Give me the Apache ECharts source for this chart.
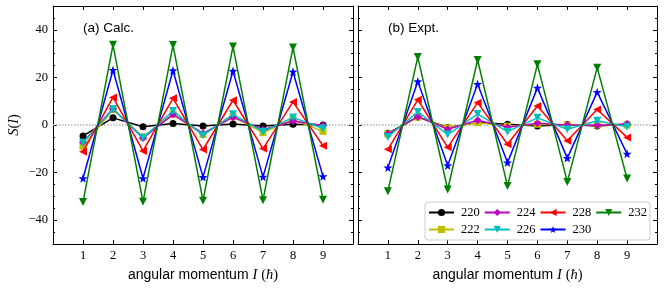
<!DOCTYPE html>
<html>
<head>
<meta charset="utf-8">
<script src="https://cdn.jsdelivr.net/npm/echarts@6/dist/echarts.min.js"></script>
<style>html,body{margin:0;padding:0;background:#fff}#c{width:665px;height:288px}</style>
</head>
<body>
<div id="c"></div>
<script>
// angular momentum I
const spins = [1, 2, 3, 4, 5, 6, 7, 8, 9];
const seriesNames = ['220', '222', '224', '226', '228', '230', '232'];

// (a) Calc.
const calc220 = [-4.6, 3.0, -0.7, 0.6, -0.4, 0.4, -0.4, 0.3, 0.0];
const calc222 = [-9.0, 6.5, -5.0, 4.5, -4.0, 3.5, -3.2, 2.3, -2.7];
const calc224 = [-7.2, 6.8, -5.5, 4.5, -3.5, 3.3, -2.0, 1.7, -0.2];
const calc226 = [-7.5, 6.7, -5.4, 5.9, -4.3, 4.5, -2.8, 3.2, -1.5];
const calc228 = [-11.2, 11.6, -10.9, 11.2, -10.3, 10.4, -9.9, 9.7, -8.7];
const calc230 = [-22.4, 23.1, -22.4, 22.9, -21.9, 22.7, -21.8, 22.4, -21.6];
const calc232 = [-32.4, 33.7, -32.3, 33.6, -31.8, 33.0, -31.6, 32.6, -31.4];

// (b) Expt.
const expt220 = [-3.5, 3.4, -1.0, 1.0, 0.3, -0.4, 0.2, -0.4, 0.3];
const expt222 = [-3.8, 3.3, -1.2, 1.0, -0.5, 0.3, 0.0, 0.0, 0.0];
const expt224 = [-3.8, 3.5, -1.8, 2.0, -0.9, 0.7, 0.0, -0.1, 0.4];
const expt226 = [-5.0, 5.5, -4.0, 4.6, -2.8, 3.0, -1.8, 1.8, -0.7];
const expt228 = [-10.2, 10.6, -9.4, 9.4, -8.1, 8.0, -6.6, 6.5, -5.2];
const expt230 = [-17.9, 18.3, -17.0, 17.2, -15.8, 15.6, -13.9, 13.8, -12.1];
const expt232 = [-27.8, 28.6, -27.1, 27.3, -25.6, 25.5, -23.9, 24.1, -22.5];

const calcData = [calc220, calc222, calc224, calc226, calc228, calc230, calc232];
const exptData = [expt220, expt222, expt224, expt226, expt228, expt230, expt232];

const colors = ['#000000', '#bfbf00', '#bf00bf', '#00bfbf', '#ff0000', '#0000ff', '#008000'];
const STAR = 'path://M0,-10 L2.35,-3.24 L9.51,-3.09 L3.8,1.24 L5.88,8.09 L0,4 L-5.88,8.09 L-3.8,1.24 L-9.51,-3.09 L-2.35,-3.24 Z';
const symbols = ['circle', 'rect', 'diamond', 'triangle', 'triangle', STAR, 'triangle'];
const rotations = [0, 0, 0, 180, 90, 0, 180];
const sizes = [7, 7, 8, 8, 8, 9, 8];

const SERIF = '"Liberation Serif", "DejaVu Serif", serif';
const SANS = '"Liberation Sans", "DejaVu Sans", sans-serif';

function xAxes(gi) {
  const common = {
    gridIndex: gi, type: 'value', min: 0, max: 10, interval: 1,
    axisLine: { show: true, onZero: false, lineStyle: { color: '#000', width: 1 } },
    axisTick: { show: true, inside: true, length: 4, lineStyle: { color: '#000', width: 1 } },
    splitLine: { show: false }
  };
  return [
    Object.assign({}, common, {
      position: 'bottom',
      axisLabel: {
        show: true, margin: 5, color: '#000', fontFamily: SERIF, fontSize: 12.5,
        formatter: v => (v >= 1 && v <= 9) ? String(v) : ''
      },
      name: '{a|angular momentum }{b|I}{a| }{c|(}{b|ħ}{c|)}',
      nameLocation: 'middle', nameGap: 24,
      nameTextStyle: {
        rich: {
          a: { fontFamily: SANS, fontSize: 14, color: '#000' },
          b: { fontFamily: SERIF, fontStyle: 'italic', fontSize: 14.5, color: '#000' },
          c: { fontFamily: SERIF, fontSize: 14.5, color: '#000' }
        }
      }
    }),
    Object.assign({}, common, { position: 'top', axisLabel: { show: false } })
  ];
}

function yAxes(gi, withLabels) {
  const common = {
    gridIndex: gi, type: 'value', min: -50, max: 50, splitNumber: 5,
    axisLine: { show: true, onZero: false, lineStyle: { color: '#000', width: 1 } },
    axisTick: { show: true, inside: true, length: 4, lineStyle: { color: '#000', width: 1 } },
    minorTick: { show: true, splitNumber: 4, length: 2, lineStyle: { color: '#000', width: 1 } },
    splitLine: { show: false }, minorSplitLine: { show: false }
  };
  const left = Object.assign({}, common, {
    position: 'left',
    axisLabel: {
      show: withLabels, margin: 5, color: '#000', fontFamily: SERIF, fontSize: 12.5,
      showMinLabel: false, showMaxLabel: false,
      formatter: v => v < 0 ? '\u2212' + (-v) : String(v)
    }
  });
  if (withLabels) {
    Object.assign(left, {
      name: '{i|S}{n|(}{i|I}{n|)}', nameLocation: 'middle', nameGap: 31,
      nameTextStyle: {
        rich: {
          i: { fontFamily: SERIF, fontStyle: 'italic', fontSize: 14.5, color: '#000' },
          n: { fontFamily: SERIF, fontSize: 14.5, color: '#000' }
        }
      }
    });
  }
  return [left, Object.assign({}, common, { position: 'right', axisLabel: { show: false } })];
}

function buildSeries(dataSets, gi) {
  return dataSets.map((vals, k) => {
    const s = {
      name: seriesNames[k], type: 'line',
      xAxisIndex: gi * 2, yAxisIndex: gi * 2,
      data: spins.map((x, j) => [x, vals[j]]),
      symbol: symbols[k], symbolRotate: rotations[k], symbolSize: sizes[k],
      showAllSymbol: true,
      lineStyle: { color: colors[k], width: 1.5 },
      itemStyle: { color: colors[k], borderWidth: 0 },
      emphasis: { disabled: true },
      z: 3 + k
    };
    if (k === 0) {
      s.markLine = {
        silent: true, symbol: 'none', label: { show: false },
        lineStyle: { color: '#b0b0b0', type: 'dotted', width: 1.5 },
        data: [{ yAxis: 0 }], z: 1
      };
    }
    return s;
  });
}

const chart = echarts.init(document.getElementById('c'), null, { renderer: 'canvas' });
chart.setOption({
  animation: false,
  backgroundColor: '#fff',
  grid: [
    { left: 53, top: 6, width: 300, height: 241 },
    { left: 358, top: 6, width: 299, height: 241 }
  ],
  xAxis: [].concat(xAxes(0), xAxes(1)),
  yAxis: [].concat(yAxes(0, true), yAxes(1, false)),
  legend: {
    data: ['220', '224', '228', '232', '222', '226', '230'],
    left: 425, top: 202, width: 232,
    orient: 'horizontal',
    itemWidth: 25, itemHeight: 9, itemGap: 4,
    padding: [4, 3, 4, 3],
    borderColor: '#cccccc', borderWidth: 1, borderRadius: 3,
    backgroundColor: '#ffffff',
    textStyle: { fontFamily: SERIF, fontSize: 12.5, color: '#000', padding: [0, 0, 0, 2] }
  },
  graphic: [
    { type: 'text', left: 83, top: 21, style: { text: '(a) Calc.', font: '13.5px "Liberation Sans"', fill: '#000' } },
    { type: 'text', left: 388, top: 21, style: { text: '(b) Expt.', font: '13.5px "Liberation Sans"', fill: '#000' } }
  ],
  series: [].concat(buildSeries(calcData, 0), buildSeries(exptData, 1))
});
</script>
</body>
</html>
